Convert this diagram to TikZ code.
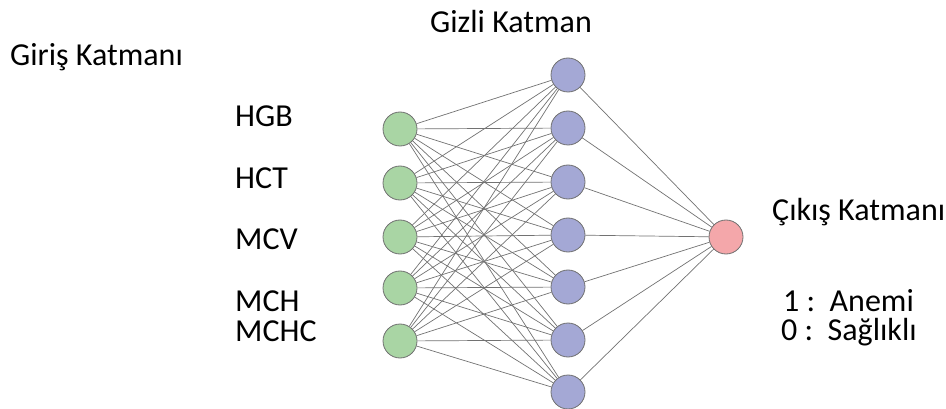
\documentclass[tikz,border=0pt]{standalone}
\usepackage{fontspec}
\setmainfont{Carlito}
\usetikzlibrary{backgrounds}
\definecolor{ingreen}{HTML}{A9D5A4}
\definecolor{hidblue}{HTML}{A4A8D5}
\definecolor{outpink}{HTML}{F4A7AA}
\definecolor{rimgray}{HTML}{707070}
\definecolor{wiregray}{HTML}{727272}
\begin{document}
\begin{tikzpicture}[x=1pt,y=-1pt,
  neuron/.style={circle,draw=rimgray,line width=0.8pt,minimum size=34pt,inner sep=0pt},
  wire/.style={draw=wiregray,line width=0.7pt},
  lbl/.style={anchor=base west,inner sep=0pt,font=\fontsize{32}{38}\selectfont}]
\useasboundingbox (0,0) rectangle (946,409);

% input layer
\foreach \i/\y in {1/129,2/183,3/237,4/288,5/341}
  \node[neuron,fill=ingreen] (in\i) at (400,\y) {};
% hidden layer
\foreach \j/\y in {1/75,2/128,3/182,4/235,5/287,6/340,7/392}
  \node[neuron,fill=hidblue] (h\j) at (568,\y) {};
% output
\node[neuron,fill=outpink] (out) at (726,237) {};

% connections
\begin{scope}[on background layer]
  \foreach \i in {1,...,5}
    \foreach \j in {1,...,7}
      \draw[wire] (in\i) -- (h\j);
  \foreach \j in {1,...,7}
    \draw[wire] (h\j) -- (out);
\end{scope}

% captions
\node[lbl] (tin) at (10,66) {Giriş Katmanı};
\node[lbl] (thid) at (430,33) {Gizli Katman};
\node[lbl] (tout) at (772,221) {Çıkış Katmanı};
\node[lbl] (l1) at (235,127) {HGB};
\node[lbl] (l2) at (235,189) {HCT};
\node[lbl] (l3) at (235,250) {MCV};
\node[lbl] (l4) at (235,311) {MCH};
\node[lbl] (l5) at (235,341) {MCHC};
\node[lbl] (c1) at (783,311) {1 :\ \ Anemi};
\node[lbl] (c0) at (781,340) {0 :\ \ Sağlıklı};
\end{tikzpicture}
\end{document}
